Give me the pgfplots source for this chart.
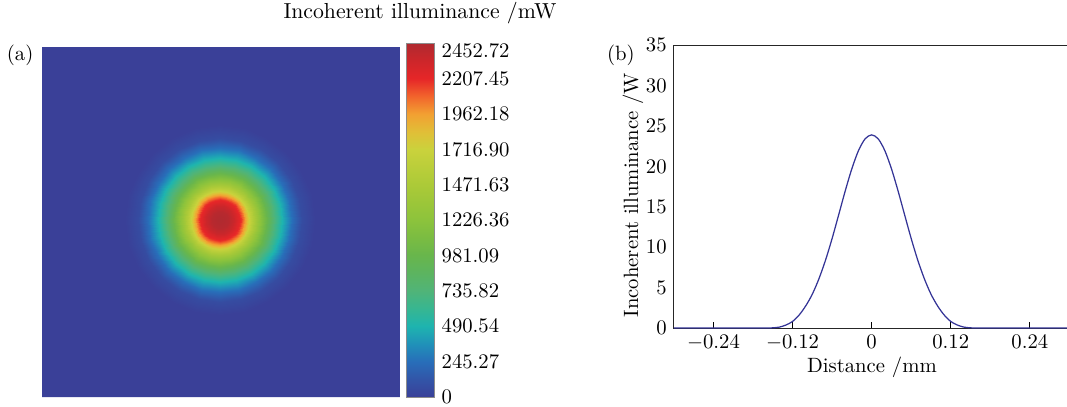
\documentclass[border=0pt]{standalone}
\usepackage{pgfplots}
\pgfplotsset{compat=1.18}
\definecolor{curve}{RGB}{52,52,150}
\begin{document}
\begin{tikzpicture}
\begin{axis}[
  at={(0,0)}, anchor=south west,
  scale only axis, width=172.9pt, height=169.1pt,
  view={0}{90},
  xmin=-178, xmax=180, ymin=-177, ymax=173,
  ticks=none,
  axis line style={draw=none},
  colormap={illum}{rgb255=(58,64,152) rgb255=(50,85,168) rgb255=(40,110,185) rgb255=(32,145,185) rgb255=(30,180,175) rgb255=(55,182,145) rgb255=(80,180,120) rgb255=(92,180,96) rgb255=(104,182,76) rgb255=(122,188,66) rgb255=(140,195,60) rgb255=(156,198,57) rgb255=(172,202,56) rgb255=(186,206,58) rgb255=(202,210,60) rgb255=(225,190,55) rgb255=(242,160,50) rgb255=(242,100,44) rgb255=(230,38,40) rgb255=(205,38,42) rgb255=(175,42,48)},
  point meta min=0, point meta max=2452.72,
  colorbar,
  colorbar style={
    at={(parent axis.south east)}, anchor=south west, xshift=-5.4pt,
    width=13.5pt, height=171pt,
    ytick={0,245.27,490.54,735.82,981.09,1226.36,1471.63,1716.90,1962.18,2207.45},
    yticklabels={0,245.27,490.54,735.82,981.09,1226.36,1471.63,1716.90,1962.18,2207.45},
    extra y ticks={2452.72}, extra y tick labels={2452.72},
    extra y tick style={yticklabel style={yshift=-3.8pt}},
    major tick length=0pt,
    axis line style={draw=black!45},
  },
]
\addplot3[surf, shader=flat, draw=none] coordinates {
(-178,-177,0) (180,-177,0)

(-178,173,0) (180,173,0)
};
\addplot3[surf, shader=interp, data cs=polar] coordinates {
(0,0,2450) (0,8,2420) (0,14,2340) (0,21,2180) (0,25,1960) (0,29,1716) (0,34,1470) (0,40,1226) (0,47,981) (0,54,735) (0,62,490) (0,72,245) (0,82,70) (0,95,0)

(15,0,2450) (15,8,2420) (15,14,2340) (15,21,2180) (15,25,1960) (15,29,1716) (15,34,1470) (15,40,1226) (15,47,981) (15,54,735) (15,62,490) (15,72,245) (15,82,70) (15,95,0)

(30,0,2450) (30,8,2420) (30,14,2340) (30,21,2180) (30,25,1960) (30,29,1716) (30,34,1470) (30,40,1226) (30,47,981) (30,54,735) (30,62,490) (30,72,245) (30,82,70) (30,95,0)

(45,0,2450) (45,8,2420) (45,14,2340) (45,21,2180) (45,25,1960) (45,29,1716) (45,34,1470) (45,40,1226) (45,47,981) (45,54,735) (45,62,490) (45,72,245) (45,82,70) (45,95,0)

(60,0,2450) (60,8,2420) (60,14,2340) (60,21,2180) (60,25,1960) (60,29,1716) (60,34,1470) (60,40,1226) (60,47,981) (60,54,735) (60,62,490) (60,72,245) (60,82,70) (60,95,0)

(75,0,2450) (75,8,2420) (75,14,2340) (75,21,2180) (75,25,1960) (75,29,1716) (75,34,1470) (75,40,1226) (75,47,981) (75,54,735) (75,62,490) (75,72,245) (75,82,70) (75,95,0)

(90,0,2450) (90,8,2420) (90,14,2340) (90,21,2180) (90,25,1960) (90,29,1716) (90,34,1470) (90,40,1226) (90,47,981) (90,54,735) (90,62,490) (90,72,245) (90,82,70) (90,95,0)

(105,0,2450) (105,8,2420) (105,14,2340) (105,21,2180) (105,25,1960) (105,29,1716) (105,34,1470) (105,40,1226) (105,47,981) (105,54,735) (105,62,490) (105,72,245) (105,82,70) (105,95,0)

(120,0,2450) (120,8,2420) (120,14,2340) (120,21,2180) (120,25,1960) (120,29,1716) (120,34,1470) (120,40,1226) (120,47,981) (120,54,735) (120,62,490) (120,72,245) (120,82,70) (120,95,0)

(135,0,2450) (135,8,2420) (135,14,2340) (135,21,2180) (135,25,1960) (135,29,1716) (135,34,1470) (135,40,1226) (135,47,981) (135,54,735) (135,62,490) (135,72,245) (135,82,70) (135,95,0)

(150,0,2450) (150,8,2420) (150,14,2340) (150,21,2180) (150,25,1960) (150,29,1716) (150,34,1470) (150,40,1226) (150,47,981) (150,54,735) (150,62,490) (150,72,245) (150,82,70) (150,95,0)

(165,0,2450) (165,8,2420) (165,14,2340) (165,21,2180) (165,25,1960) (165,29,1716) (165,34,1470) (165,40,1226) (165,47,981) (165,54,735) (165,62,490) (165,72,245) (165,82,70) (165,95,0)

(180,0,2450) (180,8,2420) (180,14,2340) (180,21,2180) (180,25,1960) (180,29,1716) (180,34,1470) (180,40,1226) (180,47,981) (180,54,735) (180,62,490) (180,72,245) (180,82,70) (180,95,0)

(195,0,2450) (195,8,2420) (195,14,2340) (195,21,2180) (195,25,1960) (195,29,1716) (195,34,1470) (195,40,1226) (195,47,981) (195,54,735) (195,62,490) (195,72,245) (195,82,70) (195,95,0)

(210,0,2450) (210,8,2420) (210,14,2340) (210,21,2180) (210,25,1960) (210,29,1716) (210,34,1470) (210,40,1226) (210,47,981) (210,54,735) (210,62,490) (210,72,245) (210,82,70) (210,95,0)

(225,0,2450) (225,8,2420) (225,14,2340) (225,21,2180) (225,25,1960) (225,29,1716) (225,34,1470) (225,40,1226) (225,47,981) (225,54,735) (225,62,490) (225,72,245) (225,82,70) (225,95,0)

(240,0,2450) (240,8,2420) (240,14,2340) (240,21,2180) (240,25,1960) (240,29,1716) (240,34,1470) (240,40,1226) (240,47,981) (240,54,735) (240,62,490) (240,72,245) (240,82,70) (240,95,0)

(255,0,2450) (255,8,2420) (255,14,2340) (255,21,2180) (255,25,1960) (255,29,1716) (255,34,1470) (255,40,1226) (255,47,981) (255,54,735) (255,62,490) (255,72,245) (255,82,70) (255,95,0)

(270,0,2450) (270,8,2420) (270,14,2340) (270,21,2180) (270,25,1960) (270,29,1716) (270,34,1470) (270,40,1226) (270,47,981) (270,54,735) (270,62,490) (270,72,245) (270,82,70) (270,95,0)

(285,0,2450) (285,8,2420) (285,14,2340) (285,21,2180) (285,25,1960) (285,29,1716) (285,34,1470) (285,40,1226) (285,47,981) (285,54,735) (285,62,490) (285,72,245) (285,82,70) (285,95,0)

(300,0,2450) (300,8,2420) (300,14,2340) (300,21,2180) (300,25,1960) (300,29,1716) (300,34,1470) (300,40,1226) (300,47,981) (300,54,735) (300,62,490) (300,72,245) (300,82,70) (300,95,0)

(315,0,2450) (315,8,2420) (315,14,2340) (315,21,2180) (315,25,1960) (315,29,1716) (315,34,1470) (315,40,1226) (315,47,981) (315,54,735) (315,62,490) (315,72,245) (315,82,70) (315,95,0)

(330,0,2450) (330,8,2420) (330,14,2340) (330,21,2180) (330,25,1960) (330,29,1716) (330,34,1470) (330,40,1226) (330,47,981) (330,54,735) (330,62,490) (330,72,245) (330,82,70) (330,95,0)

(345,0,2450) (345,8,2420) (345,14,2340) (345,21,2180) (345,25,1960) (345,29,1716) (345,34,1470) (345,40,1226) (345,47,981) (345,54,735) (345,62,490) (345,72,245) (345,82,70) (345,95,0)

(360,0,2450) (360,8,2420) (360,14,2340) (360,21,2180) (360,25,1960) (360,29,1716) (360,34,1470) (360,40,1226) (360,47,981) (360,54,735) (360,62,490) (360,72,245) (360,82,70) (360,95,0)
};
\end{axis}
\begin{axis}[
  at={(305.3pt,33.3pt)}, anchor=south west,
  scale only axis, width=197.4pt, height=136.7pt,
  xmin=-0.30, xmax=0.32, ymin=0, ymax=35,
  xtick={-0.24,-0.12,0,0.12,0.24},
  ytick={0,5,10,15,20,25,30,35},
  xtick pos=bottom, ytick pos=left,
  xticklabel style={/pgf/number format/.cd, fixed, precision=2},
  ytick style={draw=none},
  xtick style={black, line width=0.5pt},
  major tick length=2.7pt,
  axis line style={line width=0.5pt, black!85},
  xlabel={Distance /mm}, ylabel={Incoherent illuminance /W},
  xlabel style={at={(axis description cs:0.4845,0)}, anchor=center, yshift=-18.8pt},
  ylabel style={at={(axis description cs:-0.1003,0.47)}, anchor=center},
]
\addplot[color=curve, line width=0.6pt, smooth] coordinates {
(-0.30,0) (-0.17,0) (-0.16,0.01) (-0.15,0.03) (-0.14,0.12) (-0.13,0.38) (-0.12,0.82) (-0.11,1.62) (-0.10,2.75) (-0.09,4.2) (-0.08,6.1) (-0.07,8.4) (-0.06,11.08) (-0.05,14.02) (-0.04,16.99) (-0.03,19.72) (-0.02,21.95) (-0.01,23.40) (0,23.9) (0.01,23.40) (0.02,21.95) (0.03,19.72) (0.04,16.99) (0.05,14.02) (0.06,11.08) (0.07,8.4) (0.08,6.1) (0.09,4.2) (0.10,2.75) (0.11,1.62) (0.12,0.82) (0.13,0.38) (0.14,0.12) (0.15,0.03) (0.16,0.01) (0.17,0) (0.32,0)
};
\end{axis}
\node[font=\fontsize{10.5}{12.5}\selectfont] at (182.6pt,185.3pt) {Incoherent illuminance /mW};
\node at (-10.6pt,165.2pt) {(a)};
\node at (279.7pt,165.2pt) {(b)};
\pgfresetboundingbox
\useasboundingbox (-20.3pt,-4.8pt) rectangle (495.2pt,191.8pt);
\end{tikzpicture}
\end{document}
